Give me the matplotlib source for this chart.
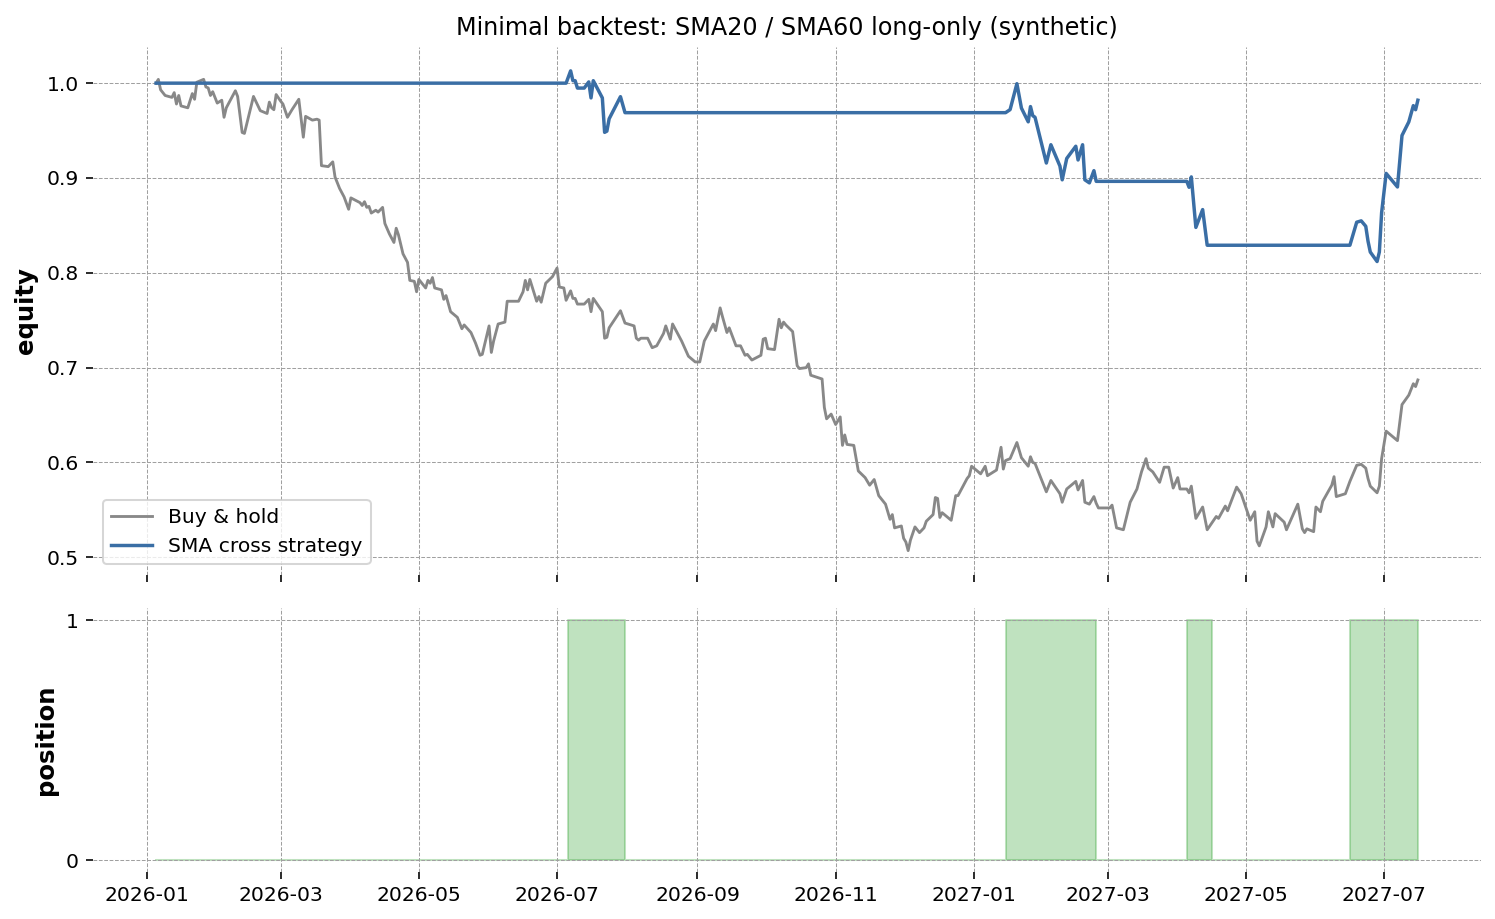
import numpy as np
import pandas as pd
import matplotlib
matplotlib.use("Agg")
import matplotlib.pyplot as plt
import matplotlib.dates as mdates

# ---------------- data ----------------
start_date = "2026-01-01"
# buy & hold equity: days since 2026-01-01, value
bh_day = [4, 5, 6, 8, 11, 12, 13, 14, 15, 18, 20, 21, 22, 25, 26, 27, 28, 29, 31, 33,
          34, 35, 39, 40, 42, 43, 47, 50, 53, 54, 55, 56, 57, 59, 60, 62, 64, 67, 69, 70,
          73, 75, 76, 77, 80, 82, 83, 85, 87, 89, 90, 94, 95, 96, 97, 98, 99, 101, 102, 104,
          105, 107, 109, 110, 111, 113, 115, 116, 118, 119, 120, 123, 124, 125, 126, 127, 130, 131, 132, 134,
          137, 139, 140, 143, 145, 147, 148, 151, 152, 153, 155, 158, 159, 164, 166, 167, 168, 169, 172, 173,
          174, 176, 179, 181, 182, 184, 185, 187, 188, 189, 190, 193, 195, 196, 197, 201, 202, 203, 204, 209,
          211, 215, 216, 217, 218, 221, 223, 225, 228, 229, 231, 232, 236, 239, 242, 244, 246, 250, 251, 253,
          254, 256, 257, 260, 262, 264, 265, 267, 271, 272, 273, 274, 277, 279, 280, 281, 282, 285, 287, 288,
          291, 292, 293, 298, 299, 300, 302, 304, 306, 307, 308, 309, 312, 314, 317, 319, 321, 323, 326, 328,
          329, 330, 333, 334, 335, 336, 337, 339, 341, 343, 344, 347, 348, 349, 350, 351, 355, 357, 358, 362,
          363, 364, 368, 370, 371, 375, 377, 378, 379, 381, 384, 386, 389, 390, 391, 392, 397, 399, 403, 404,
          406, 410, 411, 413, 414, 416, 418, 419, 420, 425, 426, 428, 431, 434, 437, 439, 441, 442, 444, 447,
          449, 451, 453, 455, 456, 459, 460, 461, 463, 466, 468, 472, 473, 476, 477, 481, 483, 485, 487, 489,
          490, 491, 494, 495, 497, 498, 502, 503, 508, 510, 511, 512, 515, 516, 518, 519, 523, 524, 525, 529,
          531, 534, 536, 538, 539, 540, 543, 544, 545, 547, 552, 554, 557, 559, 560, 561]
bh_value = [1.000, 1.004, 0.993, 0.987, 0.985, 0.990, 0.978, 0.987, 0.976, 0.974, 0.989, 0.983, 1.001, 1.004, 0.996, 0.995, 0.987, 0.991, 0.979, 0.982,
            0.964, 0.974, 0.992, 0.986, 0.948, 0.947, 0.986, 0.971, 0.968, 0.980, 0.974, 0.972, 0.988, 0.981, 0.978, 0.964, 0.972, 0.983, 0.943, 0.965,
            0.961, 0.962, 0.961, 0.913, 0.912, 0.917, 0.901, 0.889, 0.880, 0.867, 0.879, 0.874, 0.871, 0.875, 0.869, 0.870, 0.863, 0.866, 0.864, 0.869,
            0.852, 0.841, 0.832, 0.847, 0.840, 0.820, 0.811, 0.792, 0.791, 0.780, 0.793, 0.784, 0.792, 0.789, 0.795, 0.784, 0.782, 0.772, 0.776, 0.759,
            0.753, 0.741, 0.745, 0.737, 0.726, 0.713, 0.714, 0.744, 0.716, 0.728, 0.746, 0.748, 0.770, 0.770, 0.780, 0.792, 0.782, 0.793, 0.770, 0.775,
            0.769, 0.789, 0.796, 0.805, 0.785, 0.784, 0.771, 0.781, 0.773, 0.773, 0.767, 0.767, 0.772, 0.759, 0.773, 0.759, 0.731, 0.732, 0.742, 0.760,
            0.747, 0.744, 0.731, 0.729, 0.731, 0.731, 0.721, 0.723, 0.736, 0.744, 0.730, 0.746, 0.728, 0.712, 0.706, 0.706, 0.728, 0.746, 0.739, 0.763,
            0.754, 0.737, 0.742, 0.723, 0.723, 0.713, 0.714, 0.708, 0.713, 0.730, 0.731, 0.720, 0.719, 0.751, 0.742, 0.748, 0.745, 0.738, 0.702, 0.699,
            0.700, 0.704, 0.692, 0.688, 0.658, 0.646, 0.651, 0.640, 0.648, 0.618, 0.629, 0.619, 0.618, 0.591, 0.584, 0.576, 0.582, 0.565, 0.556, 0.540,
            0.545, 0.531, 0.533, 0.520, 0.516, 0.507, 0.518, 0.532, 0.526, 0.531, 0.538, 0.545, 0.563, 0.562, 0.542, 0.547, 0.539, 0.565, 0.565, 0.583,
            0.586, 0.596, 0.588, 0.596, 0.586, 0.592, 0.616, 0.593, 0.602, 0.604, 0.621, 0.605, 0.596, 0.606, 0.600, 0.599, 0.569, 0.581, 0.567, 0.558,
            0.572, 0.580, 0.571, 0.581, 0.558, 0.556, 0.564, 0.557, 0.552, 0.552, 0.555, 0.531, 0.529, 0.558, 0.572, 0.590, 0.604, 0.594, 0.590, 0.579,
            0.595, 0.595, 0.573, 0.584, 0.572, 0.572, 0.568, 0.575, 0.541, 0.553, 0.529, 0.543, 0.541, 0.554, 0.549, 0.574, 0.567, 0.553, 0.539, 0.548,
            0.517, 0.512, 0.532, 0.548, 0.532, 0.546, 0.537, 0.529, 0.556, 0.530, 0.526, 0.530, 0.527, 0.553, 0.548, 0.559, 0.576, 0.585, 0.564, 0.567,
            0.580, 0.597, 0.598, 0.594, 0.583, 0.575, 0.568, 0.575, 0.604, 0.633, 0.623, 0.661, 0.671, 0.683, 0.680, 0.687]

# position (0 = flat, 1 = long), change points
pos_dates = ["2026-01-05", "2026-07-06", "2026-07-31", "2027-01-15", "2027-02-24",
             "2027-04-05", "2027-04-16", "2027-06-16", "2027-07-16"]
pos_values = [0, 1, 0, 1, 0, 1, 0, 1, 1]

title = "Minimal backtest: SMA20 / SMA60 long-only (synthetic)"
labels = ["Buy & hold", "SMA cross strategy"]

# ---------------- derived series ----------------
dates = pd.Timestamp(start_date) + pd.to_timedelta(bh_day, unit="D")
bh = pd.Series(bh_value, index=dates)
pos = pd.Series(pos_values, index=pd.to_datetime(pos_dates))

# position held at the previous day's close
held = pos.reindex(dates - pd.Timedelta(days=1), method="ffill").fillna(0).values
rets = bh.pct_change().fillna(0).values
strat = pd.Series(np.cumprod(1 + held * rets), index=dates)

# ---------------- plot ----------------
DPI = 146
fig = plt.figure(figsize=(1495 / DPI, 919 / DPI), dpi=DPI)
gs = fig.add_gridspec(2, 1, height_ratios=[2, 1], left=0.0622, right=0.9906,
                      top=0.949, bottom=0.051, hspace=0.085)
ax1 = fig.add_subplot(gs[0])
ax2 = fig.add_subplot(gs[1], sharex=ax1)

ax1.plot(bh.index, bh.values, color="#888888", lw=1.4, label=labels[0])
ax1.plot(strat.index, strat.values, color="#3a6ea5", lw=1.7, label=labels[1])
ax1.set_ylabel("equity", fontsize=12, fontweight="bold")
ax1.set_title(title, fontsize=11.8)
ax1.legend(loc="lower left", fontsize=10, framealpha=0.8)

ax2.fill_between(pos.index, 0, pos.values, step="post", color="tab:green", alpha=0.3)
ax2.set_ylabel("position", fontsize=12, fontweight="bold")
ax2.set_yticks([0, 1])

for ax in (ax1, ax2):
    ax.grid(True, linestyle="--", linewidth=0.5, color="#a0a0a0")
    for s in ax.spines.values():
        s.set_visible(False)
    ax.tick_params(labelsize=10)
plt.setp(ax1.get_xticklabels(), visible=False)

ax2.xaxis.set_major_locator(mdates.MonthLocator(bymonth=[1, 3, 5, 7, 9, 11]))
ax2.xaxis.set_major_formatter(mdates.DateFormatter("%Y-%m"))

fig.savefig("out.png", dpi=DPI)
